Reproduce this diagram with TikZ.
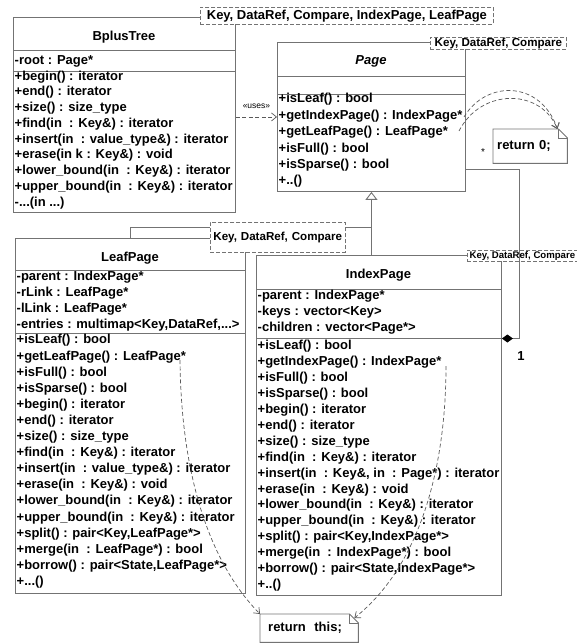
\documentclass[tikz,border=0pt]{standalone}
\usepackage{fontspec}
\setmainfont{Liberation Sans}
\usetikzlibrary{arrows.meta}

% outline of a UML note with a folded corner
\newcommand\umlnote[1]{%
  \draw[umlline] (#1.north west) -- ([xshift=-9pt]#1.north east)
    -- ([yshift=-9pt]#1.north east) -- (#1.south east) -- (#1.south west) -- cycle;
  \draw[umlline] ([xshift=-9pt]#1.north east) |- ([yshift=-9pt]#1.north east);}

\tikzset{
  umlline/.style={draw=black!55, line width=0.9pt},
  classbox/.style={umlline, anchor=north west, inner sep=0pt},
  classname/.style={anchor=base, font=\fontsize{13}{16}\selectfont\bfseries},
  members/.style={anchor=north west, inner xsep=1.5pt, inner ysep=0pt, align=left,
    font=\fontsize{13}{#1}\selectfont\bfseries, execute at begin node=\strut},
  members/.default=16,
  tparam/.style={draw=black!55, line width=0.8pt, dash pattern=on 4pt off 2pt,
    fill=white, anchor=north west, inner sep=0pt},
  notebox/.style={anchor=north west, inner ysep=0pt, align=left,
    font=\fontsize{13}{16}\selectfont\bfseries},
  notelink/.style={draw=black!65, line width=0.7pt, dash pattern=on 4pt off 2.5pt,
    -{Straight Barb[length=5pt, width=8pt]}},
  inherit/.style={umlline, -{Triangle[open, length=8pt, width=12pt]}},
  compose/.style={umlline, -{Diamond[length=11pt, width=8pt, color=black, fill=black]}},
  mult/.style={inner sep=0pt}
}

\begin{document}
\begin{tikzpicture}[x=1pt, y=-1pt]
  \useasboundingbox (0,0) rectangle (577,644);

  % BplusTree
  \node[classbox, minimum width=222pt, minimum height=195pt] (bt) at (13,17) {};
  \draw[umlline] (bt.west |- 0,50) -- (bt.east |- 0,50)
                 (bt.west |- 0,71) -- (bt.east |- 0,71);
  \node[classname] (btname) at (124,40.5) {BplusTree};
  \node[members] (btattr) at (13,53.3) {-root : Page*};
  \node[members=15.75] (btops) at (13,70.4) {+begin() : iterator\\
    +end() : iterator\\
    +size() : size\_type\\
    +find(in~~: Key\&) : iterator\\
    +insert(in~~: value\_type\&) : iterator\\
    +erase(in k : Key\&) : void\\
    +lower\_bound(in~~: Key\&) : iterator\\
    +upper\_bound(in~~: Key\&) : iterator\\
    -...(in ...)};

  % Page
  \node[classbox, minimum width=188pt, minimum height=149pt] (pg) at (277,42) {};
  \draw[umlline] (pg.west |- 0,76) -- (pg.east |- 0,76)
                 (pg.west |- 0,94) -- (pg.east |- 0,94);
  \node[classname, font=\fontsize{13}{16}\selectfont\bfseries\itshape] (pgname) at (371,64.5) {Page};
  \node[members=16.4] (pgops) at (277,93.3) {+isLeaf() : bool\\
    +getIndexPage() : IndexPage*\\
    +getLeafPage() : LeafPage*\\
    +isFull() : bool\\
    +isSparse() : bool\\
    +..()};

  % LeafPage
  \node[classbox, minimum width=230pt, minimum height=355pt] (lp) at (15,238) {};
  \draw[umlline] (lp.west |- 0,270) -- (lp.east |- 0,270)
                 (lp.west |- 0,333) -- (lp.east |- 0,333);
  \node[classname] (lpname) at (130,261.5) {LeafPage};
  \node[members=15.8] (lpattr) at (15,271.3) {-parent : IndexPage*\\
    -rLink : LeafPage*\\
    -lLink : LeafPage*\\
    -entries : multimap<Key,DataRef,...>};
  \node[members=16.1] (lpops) at (15,334.3) {+isLeaf() : bool\\
    +getLeafPage() : LeafPage*\\
    +isFull() : bool\\
    +isSparse() : bool\\
    +begin() : iterator\\
    +end() : iterator\\
    +size() : size\_type\\
    +find(in~~: Key\&) : iterator\\
    +insert(in~~: value\_type\&) : iterator\\
    +erase(in~~: Key\&) : void\\
    +lower\_bound(in~~: Key\&) : iterator\\
    +upper\_bound(in~~: Key\&) : iterator\\
    +split() : pair<Key,LeafPage*>\\
    +merge(in~~: LeafPage*) : bool\\
    +borrow() : pair<State,LeafPage*>\\
    +...()};

  % IndexPage
  \node[classbox, minimum width=245pt, minimum height=340pt] (ip) at (256,255) {};
  \draw[umlline] (ip.west |- 0,289) -- (ip.east |- 0,289)
                 (ip.west |- 0,338.5) -- (ip.east |- 0,338.5);
  \node[classname] (ipname) at (378.5,278.5) {IndexPage};
  \node[members] (ipattr) at (256,290.3) {-parent : IndexPage*\\
    -keys : vector<Key>\\
    -children : vector<Page*>};
  \node[members=15.9] (ipops) at (256,340.3) {+isLeaf() : bool\\
    +getIndexPage() : IndexPage*\\
    +isFull() : bool\\
    +isSparse() : bool\\
    +begin() : iterator\\
    +end() : iterator\\
    +size() : size\_type\\
    +find(in~~: Key\&) : iterator\\
    +insert(in~~: Key\&, in~~: Page*) : iterator\\
    +erase(in~~: Key\&) : void\\
    +lower\_bound(in~~: Key\&) : iterator\\
    +upper\_bound(in~~: Key\&) : iterator\\
    +split() : pair<Key,IndexPage*>\\
    +merge(in~~: IndexPage*) : bool\\
    +borrow() : pair<State,IndexPage*>\\
    +..()};

  % generalization
  \coordinate (gj) at (pg.south |- 0,227);
  \draw[inherit] (ip.north -| pg.south) -- (pg.south);
  \draw[umlline] (lp.north) |- (gj);

  % template parameters
  \node[tparam, minimum width=293pt, minimum height=17pt,
        font=\fontsize{13}{15}\selectfont\bfseries] (btT) at (200,7)
        {Key, DataRef, Compare, IndexPage, LeafPage};
  \node[tparam, minimum width=136pt, minimum height=12pt,
        font=\fontsize{11.6}{13}\selectfont\bfseries] (pgT) at (430,37)
        {Key, DataRef, Compare};
  \node[tparam, minimum height=30pt, text width=129pt, inner xsep=3pt, align=left,
        font=\fontsize{11.6}{13}\selectfont\bfseries] (lpT) at (210,222)
        {Key, DataRef, Compare};
  \node[tparam, minimum width=110pt, minimum height=11pt,
        font=\fontsize{9.6}{11}\selectfont\bfseries] (ipT) at (467,250)
        {Key, DataRef, Compare};

  % uses
  \draw[notelink] (bt.east |- pg.west) -- node[above=5pt, font=\fontsize{8.5}{10}\selectfont]
    (uses) {«uses»} (pg.west);

  % composition
  \coordinate (pgc) at ([yshift=22pt]pg.south east);
  \coordinate (ipc) at ([yshift=-83.5pt]ip.north east);
  \draw[compose] (pgc) -| ([xshift=18pt]ipc) -- (ipc);
  \node[mult, font=\fontsize{10}{12}\selectfont] (m0) at (483,152) {*};
  \node[mult, font=\fontsize{13}{16}\selectfont\bfseries] (m1) at (521,356) {1};

  % notes
  \node[notebox, text width=66pt, inner xsep=4pt, minimum height=34pt] (ret0) at (493,129) {return 0;};
  \umlnote{ret0}
  \node[notebox, text width=82pt, inner xsep=8pt, minimum height=28pt] (retthis) at (260,614) {return~ this;};
  \umlnote{retthis}

  % links to the notes
  \coordinate (gip) at (464,117);
  \coordinate (glp) at (459,131);
  \coordinate (lgl) at (180,360);
  \coordinate (igi) at (446,366);
  \draw[notelink] (gip) .. controls +(22,-37) and +(-17,-49) .. ([xshift=-10pt]ret0.north east);
  \draw[notelink] (glp) .. controls +(22,-43) and +(-17,-41) .. ([xshift=-10pt]ret0.north east);
  \draw[notelink] (lgl) .. controls +(1,110) and +(-53,-54) .. (retthis.north west);
  \draw[notelink] (igi) .. controls +(0,94) and +(69,-55) .. ([xshift=-4pt, yshift=-4pt]retthis.north east);
\end{tikzpicture}
\end{document}
